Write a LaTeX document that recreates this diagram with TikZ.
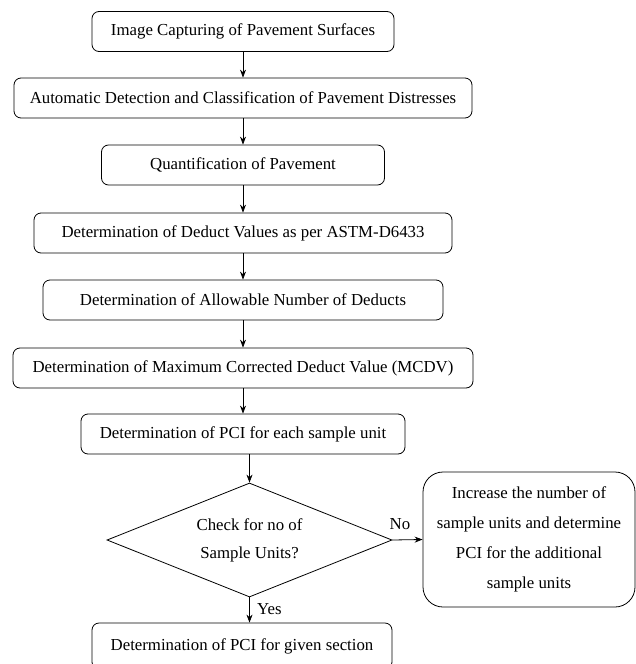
\documentclass[tikz,border=0pt]{standalone}
\usepackage{fontspec}
\setmainfont{Liberation Serif}
\usetikzlibrary{arrows.meta,shapes.geometric}
\newcommand{\fs}{\fontsize{16.8}{20}\selectfont}

\begin{document}
\begin{tikzpicture}[x=1pt,y=-1pt,
   box/.style={draw, rounded corners=7pt, line width=0.8pt, inner sep=0pt,
               minimum height=40pt, font=\fs},
   arr/.style={-{Stealth[length=8pt,width=6pt]}, line width=0.8pt}]
   \useasboundingbox (0,0) rectangle (636,664);
   \node[box, minimum width=302pt] (cap)  at (243,31.5) {Image Capturing of Pavement Surfaces};
   \node[box, minimum width=458pt] (det)  at (243,98)   {Automatic Detection and Classification of Pavement Distresses};
   \node[box, minimum width=283pt] (qnt)  at (243,165)  {Quantification of Pavement};
   \node[box, minimum width=418pt] (dv)   at (243,233)  {Determination of Deduct Values as per ASTM-D6433};
   \node[box, minimum width=400pt] (num)  at (243,300)  {Determination of Allowable Number of Deducts};
   \node[box, minimum width=460pt] (mcdv) at (243,368)  {Determination of Maximum Corrected Deduct Value (MCDV)};
   \node[box, minimum width=324pt] (pciu) at (243,434)  {Determination of PCI for each sample unit};
   \node[draw, diamond, line width=0.8pt, inner sep=0pt, aspect=2.5,
         minimum width=285pt, minimum height=114pt, align=center,
         font=\fontsize{16.8}{28}\selectfont] (chk) at (249.5,540)
         {Check for no of\\Sample Units?};
   \node[box, rounded corners=20pt, minimum width=212pt, minimum height=135pt,
         align=center, font=\fontsize{16.8}{30}\selectfont] (inc) at (529,539.5)
         {Increase the number of\\sample units and determine\\PCI for the additional\\sample units};
   \node[box, minimum width=300pt, minimum height=46pt] (pcis) at (242,646)
         {Determination of PCI for given section};

   \draw[arr] (cap.south)  -- (det.north);
   \draw[arr] (det.south)  -- (qnt.north);
   \draw[arr] (qnt.south)  -- (dv.north);
   \draw[arr] (dv.south)   -- (num.north);
   \draw[arr] (num.south)  -- (mcdv.north);
   \draw[arr] (mcdv.south) -- (pciu.north);
   \draw[arr] (pciu.south -| chk.north) -- (chk.north);
   \draw[arr] (chk.east) -- node[pos=0.25, above=6pt, font=\fs] {No} (inc.west);
   \draw[arr] (chk.south) -- node[pos=0.45, right=4pt, font=\fs] {Yes} (chk.south |- pcis.north);
\end{tikzpicture}
\end{document}
